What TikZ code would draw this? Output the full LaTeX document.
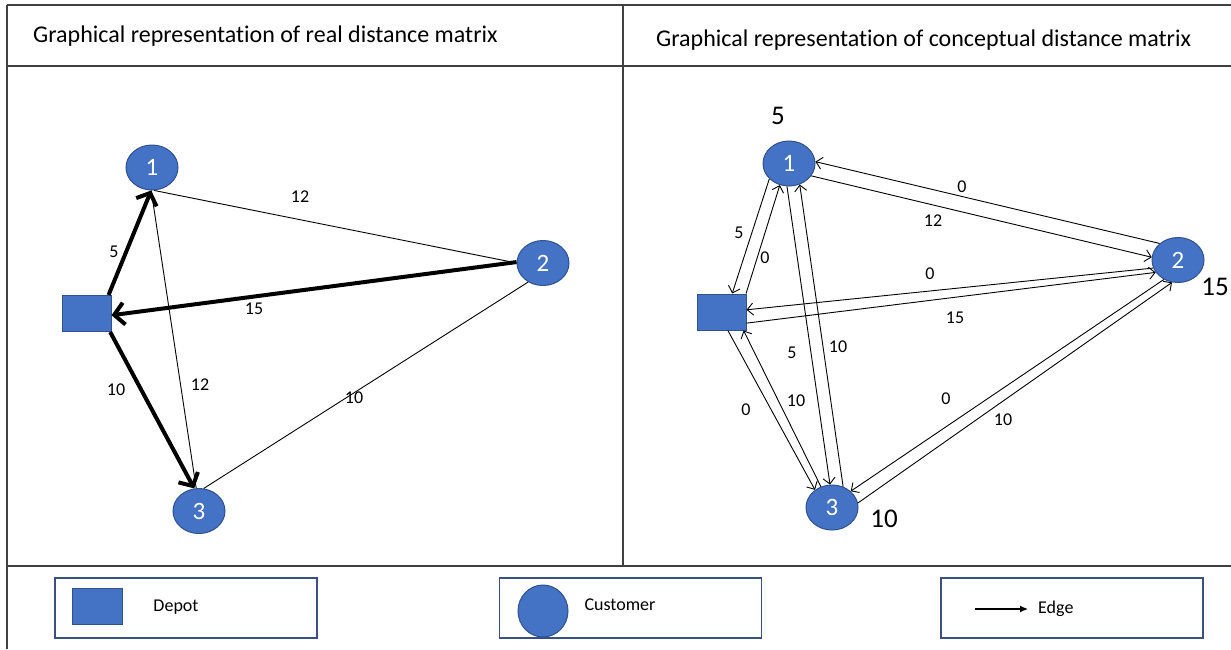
\documentclass[tikz,border=0pt]{standalone}
\usepackage{fontspec}
\setmainfont{Carlito}[Ligatures=CommonOff]
\usetikzlibrary{arrows.meta,shapes.geometric}
\definecolor{nodeblue}{HTML}{4472C4}
\definecolor{nodeedge}{HTML}{2F528F}
\definecolor{framegray}{HTML}{404040}
\definecolor{legendedge}{HTML}{3A5080}
\begin{document}
\begin{tikzpicture}[x=1pt,y=-1pt,
  cust/.style={ellipse, fill=nodeblue, draw=nodeedge, line width=1pt, minimum width=52pt, minimum height=45pt, inner sep=0pt, text=white, font=\fontsize{25}{25}\selectfont},
  depot/.style={rectangle, fill=nodeblue, draw=nodeedge, line width=1pt, minimum width=49pt, minimum height=36pt, inner sep=0pt},
  thinline/.style={line width=0.9pt},
  thickarrow/.style={line width=4pt, -{Straight Barb[length=10pt,width=22pt]}},
  arr/.style={line width=0.9pt, -{Straight Barb[length=6pt,width=12pt]}},
  lbl/.style={font=\fontsize{18}{18}\selectfont, inner sep=0pt},
  big/.style={font=\fontsize{27}{27}\selectfont, inner sep=0pt},
  titletext/.style={font=\fontsize{24}{24}\selectfont, inner sep=0pt, anchor=west},
  frame/.style={draw=framegray, line width=1.5pt},
  legendbox/.style={draw=legendedge, line width=1.3pt, fill=white, minimum width=262pt, minimum height=60pt, inner sep=0pt},
  legendtext/.style={font=\fontsize{18}{18}\selectfont, inner sep=0pt}
]
\useasboundingbox (0,0) rectangle (1231,649);
\fill[white] (0,0) rectangle (1231,649);

% frame
\coordinate (ftl) at (7,5);
\coordinate (ftr) at (1231,5);
\coordinate (fbl) at (7,649);
\coordinate (hl) at (7,66);
\coordinate (hr) at (1231,66);
\coordinate (ml) at (7,566);
\coordinate (mr) at (1231,566);
\coordinate (dt) at (623,5);
\coordinate (db) at (623,566);
\draw[frame] (ftl) -- (ftr);
\draw[frame] (ftl) -- (fbl);
\draw[frame] (hl) -- (hr);
\draw[frame] (ml) -- (mr);
\draw[frame] (dt) -- (db);

% titles
\node[titletext] (t1) at (33,36) {Graphical representation of real distance matrix};
\node[titletext] (t2) at (656,40) {Graphical representation of conceptual distance matrix};

% ---------- left panel ----------
\node[cust] (l1) at (152,167.5) {1};
\node[cust] (l2) at (543,263) {2};
\node[cust] (l3) at (199,511) {3};
\node[depot] (ld) at (86.5,313.5) {};

\draw[thinline] (l1.-85) -- (l2.180);
\draw[thinline] (l1.-92) -- (l3.97);
\draw[thinline] (l2.-128) -- (l3.78);
\draw[thickarrow] (ld.40) -- (l1.-92);
\draw[thickarrow] (l2.178) -- (ld.-4);
\draw[thickarrow] (ld.-38) -- (l3.102);

\node[lbl] (a1) at (300,197) {12};
\node[lbl] (a2) at (114,252) {5};
\node[lbl] (a3) at (254,309) {15};
\node[lbl] (a4) at (116,390) {10};
\node[lbl] (a5) at (200,385) {12};
\node[lbl] (a6) at (354,398) {10};

% ---------- right panel ----------
\node[cust] (r1) at (789,163.5) {1};
\node[cust] (r2) at (1178,260) {2};
\node[cust] (r3) at (832,507.5) {3};
\node[depot] (rd) at (721.5,312) {};

\draw[arr] (r2.138) -- (r1.4);
\draw[arr] (r1.-29) -- (r2.174);
\draw[arr] (r2.-162) -- (rd.5);
\draw[arr] (rd.-24) -- (r2.-151);
\draw[arr] (r1.-142) -- (rd.60);
\draw[arr] (rd.37) -- (r1.-113);
\draw[arr] (r1.-95) -- (r3.95);
\draw[arr] (r3.62) -- (r1.-63);
\draw[arr] (rd.-71) -- (r3.134);
\draw[arr] (r3.118) -- (rd.-40);
\draw[arr] (r2.-126) -- (r3.41);
\draw[arr] (r3.10) -- (r2.-105);

\node[lbl] (b1) at (962,187) {0};
\node[lbl] (b2) at (933,221) {12};
\node[lbl] (b3) at (930,274) {0};
\node[lbl] (b4) at (955,318) {15};
\node[lbl] (b5) at (739,233) {5};
\node[lbl] (b6) at (765,258) {0};
\node[lbl] (b7) at (792,353) {5};
\node[lbl] (b8) at (838,347) {10};
\node[lbl] (b9) at (746,410) {0};
\node[lbl] (b10) at (796,401) {10};
\node[lbl] (b11) at (946,399) {0};
\node[lbl] (b12) at (1003,420) {10};

\node[big] (c1) at (778,116) {5};
\node[big] (c2) at (1215,287) {15};
\node[big] (c3) at (884,519) {10};

% ---------- legend ----------
\node[legendbox] (g1) at (186,608) {};
\node[legendbox] (g2) at (630.5,608) {};
\node[legendbox] (g3) at (1072,608) {};

\node[depot, minimum width=50pt, minimum height=36pt] (gd) at (97,606) {};
\node[legendtext] (gdt) at (176,607) {Depot};
\node[ellipse, fill=nodeblue, draw=nodeedge, line width=1pt, minimum width=50pt, minimum height=52pt, inner sep=0pt] (gc) at (543,611) {};
\node[legendtext] (gct) at (620,605) {Customer};
\coordinate (ga) at (975,609);
\node[legendtext, anchor=west] (get) at (1038,609) {Edge};
\draw[line width=1.2pt, -{Latex[length=8pt,width=7pt]}] (ga) -- ([xshift=-10pt]get.west);
\end{tikzpicture}
\end{document}
